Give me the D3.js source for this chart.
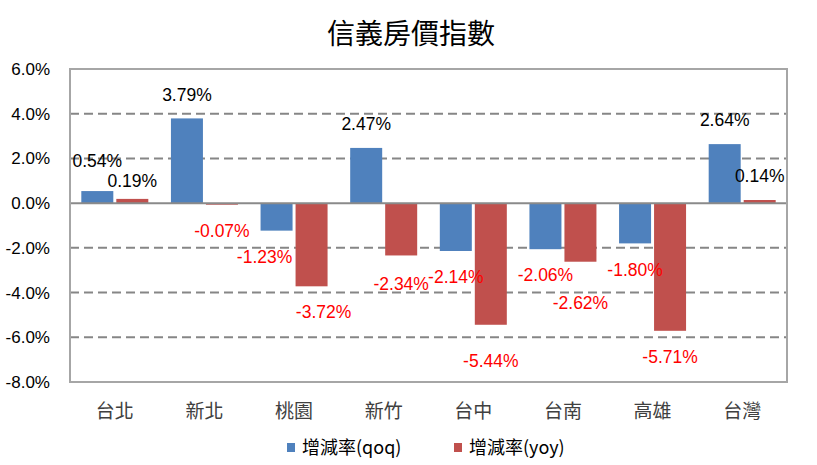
<!DOCTYPE html>
<html>
<head>
<meta charset="utf-8">
<script src="https://cdn.jsdelivr.net/npm/d3@7"></script>
<style>
  body { margin: 0; background: #fff; }
  svg { display: block; }
</style>
</head>
<body>
<div id="chart"></div>
<script>
// ============================
// Data
// ============================
const categories = ["台北", "新北", "桃園", "新竹", "台中", "台南", "高雄", "台灣"];
const qoq = [0.54, 3.79, -1.23, 2.47, -2.14, -2.06, -1.80, 2.64];
const yoy = [0.19, -0.07, -3.72, -2.34, -5.44, -2.62, -5.71, 0.14];
const yTicks = [6, 4, 2, 0, -2, -4, -6, -8];
const seriesNames = ["增減率(qoq)", "增減率(yoy)"];

// label nudges (pixels) as placed by hand in the original
const qoqLabelShift = [[0, -6], [0, 0], [-12, 0], [0, 0], [0, 0], [0, 0], [0, 0], [0, 0]];
const yoyLabelShift = [[0, 6], [0, 0], [12, 0], [0, 2], [0, 10], [0, 15], [0, 0], [0, 0]];

// ============================
// Setup
// ============================
const width = 817, height = 465;
const margin = {top: 69, right: 30, bottom: 83, left: 70};
const blue = "#4F81BD", red = "#C0504D";

const svg = d3.select("#chart").append("svg")
  .attr("width", width).attr("height", height);

const xscale = d3.scaleBand()
  .domain(categories)
  .range([margin.left, width - margin.right]);

const yscale = d3.scaleLinear()
  .domain([-8, 6])
  .range([height - margin.bottom, margin.top]);

const barW = 32, barGap = 3;

// title
svg.append("text")
  .attr("x", 411).attr("y", 44)
  .attr("text-anchor", "middle")
  .attr("font-family", "'Noto Sans CJK TC', sans-serif")
  .attr("font-size", 28)
  .attr("fill", "#000")
  .text("信義房價指數");

// grid lines
svg.append("g")
  .selectAll("line")
  .data(yTicks.filter(d => d !== 0 && d !== 6 && d !== -8))
  .join("line")
  .attr("x1", margin.left).attr("x2", width - margin.right)
  .attr("y1", d => yscale(d)).attr("y2", d => yscale(d))
  .attr("stroke", "#868686")
  .attr("stroke-width", 2)
  .attr("stroke-dasharray", "9,5");

// y axis labels
const yAxis = d3.axisLeft(yscale)
  .tickValues(yTicks)
  .tickSize(0)
  .tickPadding(20)
  .tickFormat(d => d.toFixed(1) + "%");

svg.append("g")
  .attr("transform", `translate(${margin.left},0)`)
  .call(yAxis)
  .call(g => g.select(".domain").remove())
  .call(g => g.selectAll("text")
    .attr("font-family", "'Liberation Sans', Arial, sans-serif")
    .attr("font-size", 17)
    .attr("fill", "#000"));

// bars
const barGroup = svg.append("g");

barGroup.selectAll(".qoq")
  .data(qoq)
  .join("rect")
  .attr("class", "qoq")
  .attr("x", (d, i) => xscale(categories[i]) + xscale.bandwidth() / 2 - barGap / 2 - barW)
  .attr("width", barW)
  .attr("y", d => yscale(Math.max(0, d)))
  .attr("height", d => Math.abs(yscale(d) - yscale(0)))
  .attr("fill", blue);

barGroup.selectAll(".yoy")
  .data(yoy)
  .join("rect")
  .attr("class", "yoy")
  .attr("x", (d, i) => xscale(categories[i]) + xscale.bandwidth() / 2 + barGap / 2)
  .attr("width", barW)
  .attr("y", d => yscale(Math.max(0, d)))
  .attr("height", d => Math.max(1, Math.abs(yscale(d) - yscale(0))))
  .attr("fill", red);

// zero line
svg.append("line")
  .attr("x1", margin.left).attr("x2", width - margin.right)
  .attr("y1", yscale(0)).attr("y2", yscale(0))
  .attr("stroke", "#8a8a8a")
  .attr("stroke-width", 2);

// plot frame
svg.append("rect")
  .attr("x", margin.left).attr("y", margin.top)
  .attr("width", width - margin.left - margin.right)
  .attr("height", height - margin.top - margin.bottom)
  .attr("fill", "none")
  .attr("stroke", "#a6a6a6")
  .attr("stroke-width", 2);

// category labels
svg.append("g")
  .selectAll("text")
  .data(categories)
  .join("text")
  .attr("x", d => xscale(d) + xscale.bandwidth() / 2)
  .attr("y", 418)
  .attr("text-anchor", "middle")
  .attr("font-family", "'Noto Sans CJK TC', sans-serif")
  .attr("font-size", 19)
  .attr("fill", "#404040")
  .text(d => d);

// data labels
function addLabels(values, shifts, side) {
  svg.append("g")
    .selectAll("text")
    .data(values)
    .join("text")
    .attr("x", (d, i) => {
      const c = xscale(categories[i]) + xscale.bandwidth() / 2;
      const bx = side < 0 ? c - barGap / 2 - barW / 2 : c + barGap / 2 + barW / 2;
      return bx + shifts[i][0];
    })
    .attr("y", (d, i) => yscale(d) + (d >= 0 ? -24 : 26) + shifts[i][1])
    .attr("dy", "0.35em")
    .attr("text-anchor", "middle")
    .attr("font-family", "'Liberation Sans', Arial, sans-serif")
    .attr("font-size", 17.5)
    .attr("fill", d => d >= 0 ? "#000" : "#ff0000")
    .text(d => d.toFixed(2) + "%");
}
addLabels(qoq, qoqLabelShift, -1);
addLabels(yoy, yoyLabelShift, 1);

// legend
const legend = svg.append("g")
  .selectAll("g")
  .data(seriesNames)
  .join("g")
  .attr("transform", (d, i) => `translate(${287 + i * 167},443)`);

legend.append("rect")
  .attr("width", 8).attr("height", 9)
  .attr("fill", (d, i) => i === 0 ? blue : red);

legend.append("text")
  .attr("x", 15).attr("y", 5)
  .attr("dy", "0.35em")
  .attr("font-family", "'Noto Sans CJK TC', sans-serif")
  .attr("font-size", 18)
  .attr("fill", "#000")
  .text(d => d);
</script>
</body>
</html>
